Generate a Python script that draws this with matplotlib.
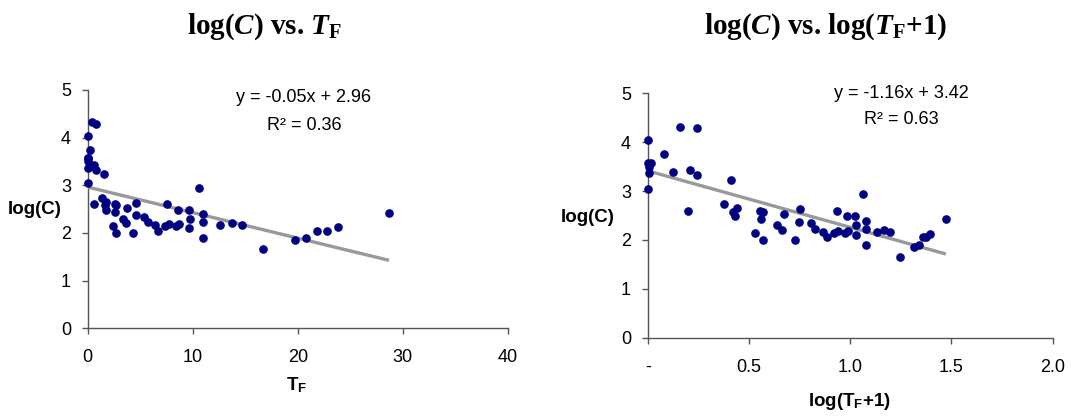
import numpy as np
import matplotlib
matplotlib.use("Agg")
import matplotlib.pyplot as plt

plt.rcParams['font.family'] = ['Liberation Sans', 'DejaVu Sans']
plt.rcParams['mathtext.fontset'] = 'custom'
plt.rcParams['mathtext.rm'] = 'Liberation Serif:bold'
plt.rcParams['mathtext.it'] = 'Liberation Serif:bold:italic'
plt.rcParams['mathtext.bf'] = 'Liberation Serif:bold'
plt.rcParams['mathtext.sf'] = 'Liberation Sans:bold'

# Data: T_F values and log(C) values
tf = [0.0, 0.44, 0.76, 0.21, 0.0, 0.02, 0.04, 0.02, 0.34, 0.62, 0.75, 1.59, 0.0,
      0.585, 1.38, 1.65, 1.75, 1.71, 2.38, 2.59, 2.73, 2.61, 2.72, 3.34, 3.61,
      3.73, 4.32, 4.57, 4.63, 5.38, 5.73, 6.37, 6.69, 7.32, 7.58, 7.70, 8.43,
      8.60, 8.72, 9.60, 9.70, 9.69, 10.57, 10.97, 10.97, 10.97, 12.6, 13.7,
      14.7, 16.7, 19.7, 20.8, 21.8, 22.8, 23.8, 28.7]
logc = [4.04, 4.32, 4.28, 3.75, 3.57, 3.50, 3.57, 3.36, 3.40, 3.43, 3.32, 3.23, 3.04,
        2.60, 2.74, 2.58, 2.65, 2.48, 2.14, 2.60, 2.58, 2.43, 2.00, 2.30, 2.20,
        2.53, 2.00, 2.37, 2.63, 2.34, 2.23, 2.17, 2.05, 2.15, 2.60, 2.18, 2.15,
        2.48, 2.19, 2.48, 2.30, 2.11, 2.94, 2.39, 2.23, 1.90, 2.16, 2.20,
        2.17, 1.66, 1.85, 1.90, 2.05, 2.05, 2.12, 2.42]

eq1 = "y = -0.05x + 2.96"
r2_1 = "R\u00b2 = 0.36"
eq2 = "y = -1.16x + 3.42"
r2_2 = "R\u00b2 = 0.63"

xticks1 = [0, 10, 20, 30, 40]
xticklabels1 = ['0', '10', '20', '30', '40']
xticks2 = [0, 0.5, 1.0, 1.5, 2.0]
xticklabels2 = ['-', '0.5', '1.0', '1.5', '2.0']
yticks = [0, 1, 2, 3, 4, 5]

tf = np.array(tf)
logc = np.array(logc)
ltf = np.log10(tf + 1)

W, H = 1071, 417
fig = plt.figure(figsize=(W / 100, H / 100), dpi=100)

ax1 = fig.add_axes([87.7 / W, (H - 328.3) / H, 420 / W, 238.3 / H])
ax2 = fig.add_axes([647.7 / W, (H - 337.7) / H, 405 / W, 244.4 / H])

MARK = '#000080'
LINE = '#999999'
FS = 13


def style(ax, xlim, xticks, xlabels):
    ax.set_xlim(xlim)
    ax.set_ylim(0, 5)
    ax.set_xticks(xticks)
    ax.set_xticklabels(xlabels, fontsize=FS)
    ax.set_yticks(yticks)
    ax.set_yticklabels([str(v) for v in yticks], fontsize=FS)
    for s in ['top', 'right']:
        ax.spines[s].set_visible(False)
    for s in ['left', 'bottom']:
        ax.spines[s].set_color('#555555')
        ax.spines[s].set_linewidth(1.0)
    ax.tick_params(direction='out', length=4, width=1.0, color='#555555')
    ax.tick_params(axis='x', pad=11)
    ax.tick_params(axis='y', pad=8)


for ax, x, xlim, xt, xl in [(ax1, tf, (0, 40), xticks1, xticklabels1),
                            (ax2, ltf, (0, 2.0), xticks2, xticklabels2)]:
    style(ax, xlim, xt, xl)
    p = np.polyfit(x, logc, 1)
    xs = np.array([0, x.max()])
    ax.plot(xs, np.polyval(p, xs), color=LINE, lw=2.4, zorder=3, solid_capstyle='butt')
    ax.plot(x, logc, 'o', color=MARK, ms=5.2, mec=MARK, zorder=4, clip_on=False)

# equations
ax1.text((304 - 87.7) / 420, (328.3 - 97) / 238.3, eq1, transform=ax1.transAxes,
         ha='center', va='center', fontsize=FS)
ax1.text((304 - 87.7) / 420, (328.3 - 125) / 238.3, r2_1, transform=ax1.transAxes,
         ha='center', va='center', fontsize=FS)
ax2.text((901 - 647.7) / 405, (337.7 - 94) / 244.4, eq2, transform=ax2.transAxes,
         ha='center', va='center', fontsize=FS)
ax2.text((901 - 647.7) / 405, (337.7 - 120) / 244.4, r2_2, transform=ax2.transAxes,
         ha='center', va='center', fontsize=FS)

# axis labels
fig.text(35 / W, 1 - 210 / H, 'log(C)', ha='center', va='center', fontsize=13.5, fontweight='bold')
fig.text(588 / W, 1 - 217 / H, 'log(C)', ha='center', va='center', fontsize=13.5, fontweight='bold')
fig.text(297 / W, 1 - 385 / H, r'T$_\mathsf{F}$', ha='center', va='center', fontsize=13.5, fontweight='bold')
fig.text(850 / W, 1 - 402 / H, r'log(T$_\mathsf{F}$+1)', ha='center', va='center', fontsize=13.5, fontweight='bold')

# titles
fig.text(265 / W, 1 - 27 / H, r'log($\mathit{C}$) vs. $\mathit{T}_\mathrm{F}$',
         ha='center', va='center', fontsize=21, family='Liberation Serif', fontweight='bold')
fig.text(826 / W, 1 - 27 / H, r'log($\mathit{C}$) vs. log($\mathit{T}_\mathrm{F}$+1)',
         ha='center', va='center', fontsize=21, family='Liberation Serif', fontweight='bold')

fig.savefig('out.png', dpi=100)
